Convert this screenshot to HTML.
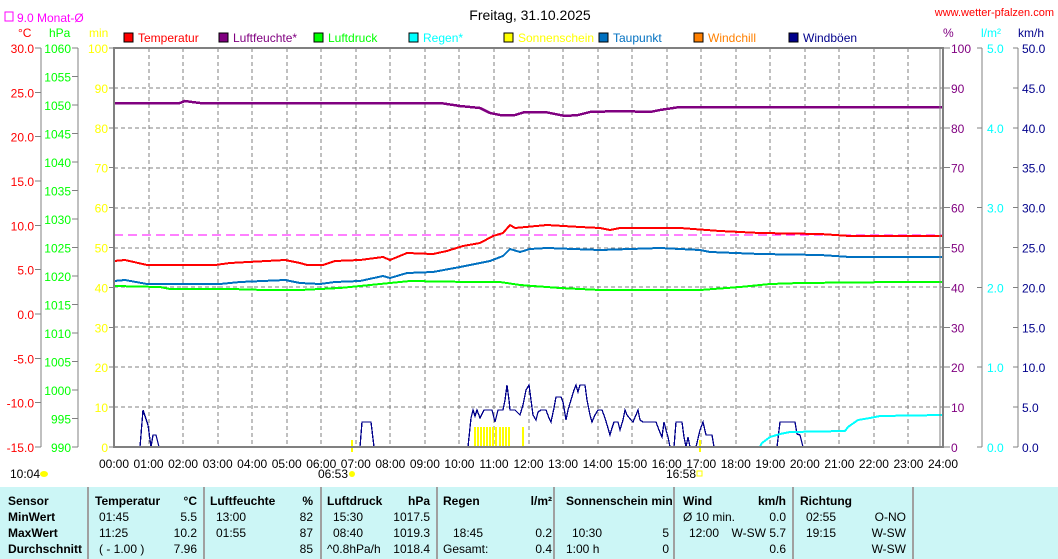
<!DOCTYPE html>
<html><head><meta charset="utf-8"><style>
body{margin:0;background:#fff;width:1058px;height:559px;overflow:hidden;font-family:"Liberation Sans",sans-serif}
svg{position:absolute;left:0;top:0}
.tb{position:absolute;left:0;top:487px;width:1058px;height:72px;background:#ccf6f6}
.tb div{position:absolute;font-size:12px;white-space:nowrap}
.b{font-weight:bold}
.sep{position:absolute;top:0;width:2px;height:72px;background:#a0a0a0}
line,polyline,rect{shape-rendering:crispEdges}
</style></head><body>
<svg id="s" width="1058" height="487" font-family="Liberation Sans, sans-serif" font-size="12"></svg>
<div class="tb" id="tb"></div>
<script>
const s=document.getElementById('s');let h='';
const X=t=>114+t*829/24, Y=v=>447-v*3.99;
h+='<text x="530" y="20" font-size="14" text-anchor="middle" fill="#000">Freitag, 31.10.2025</text>';
h+='<text x="1054" y="16" font-size="11" text-anchor="end" fill="#f00">www.wetter-pfalzen.com</text>';
h+='<rect x="5" y="12" width="8" height="9" fill="none" stroke="#f0f"/><text x="17" y="22" fill="#f0f">9.0 Monat-Ø</text>';
h+='<text x="18" y="37" fill="#f00">°C</text><text x="49" y="37" fill="#0f0">hPa</text><text x="89" y="37" fill="#ff0">min</text>';
h+='<text x="943" y="37" fill="#800080">%</text><text x="981" y="37" fill="#0ff">l/m²</text><text x="1018" y="37" fill="#00008b">km/h</text>';
const leg=[['Temperatur','#f00',124],['Luftfeuchte*','#800080',219],['Luftdruck','#0f0',314],['Regen*','#0ff',409],['Sonnenschein','#ff0',504],['Taupunkt','#0070c0',599],['Windchill','#ff8000',694],['Windböen','#00008b',789]];
leg.forEach(l=>{h+=`<rect x="${l[2]}" y="33" width="9" height="9" fill="${l[1]}" stroke="#000"/><text x="${l[2]+14}" y="42" fill="${l[1]}">${l[0]}</text>`});
for(let i=1;i<24;i++)h+=`<line x1="${Math.round(X(i))}" y1="48" x2="${Math.round(X(i))}" y2="447" stroke="#808080" stroke-dasharray="4,3"/>`;
for(let i=1;i<10;i++)h+=`<line x1="114" y1="${Math.round(Y(i*10))}" x2="943" y2="${Math.round(Y(i*10))}" stroke="#808080" stroke-dasharray="4,3"/>`;
h+=`<line x1="41" y1="48" x2="41" y2="447" stroke="#808080"/><line x1="78" y1="48" x2="78" y2="447" stroke="#808080"/><line x1="982" y1="48" x2="982" y2="447" stroke="#808080"/><line x1="1018" y1="48" x2="1018" y2="447" stroke="#808080"/>`;
for(let i=0;i<=9;i++){let y=48+i*44.33;h+=`<line x1="35" y1="${y}" x2="41" y2="${y}" stroke="#808080"/><text x="34" y="${y+5}" text-anchor="end" fill="#f00">${(30-5*i).toFixed(1)}</text>`;}
for(let i=0;i<=14;i++){let y=48+i*28.5;h+=`<line x1="72" y1="${y}" x2="78" y2="${y}" stroke="#808080"/><text x="71" y="${y+5}" text-anchor="end" fill="#0f0">${1060-5*i}</text>`;}
for(let i=0;i<=10;i++){let y=Y(100-10*i);h+=`<line x1="109" y1="${y}" x2="114" y2="${y}" stroke="#808080"/><text x="108" y="${y+5}" text-anchor="end" fill="#ff0">${100-10*i}</text>`;
h+=`<line x1="944" y1="${y}" x2="950" y2="${y}" stroke="#808080"/><text x="951" y="${y+5}" fill="#800080">${100-10*i}</text>`;
h+=`<line x1="1013" y1="${y}" x2="1018" y2="${y}" stroke="#808080"/><text x="1022" y="${y+5}" fill="#00008b">${(50-5*i).toFixed(1)}</text>`;}
for(let i=0;i<=5;i++){let y=48+i*79.8;h+=`<line x1="977" y1="${y}" x2="982" y2="${y}" stroke="#808080"/><text x="987" y="${y+5}" fill="#0ff">${(5-i).toFixed(1)}</text>`;}
for(let i=0;i<=24;i++)h+=`<text x="${X(i)}" y="468" text-anchor="middle" fill="#000">${String(i).padStart(2,'0')}:00</text>`;
h+='<text x="10" y="478" fill="#000">10:04</text><ellipse cx="44" cy="474" rx="4" ry="3" fill="#ff0"/>';
h+='<text x="318" y="478" fill="#000">06:53</text><circle cx="352" cy="474" r="3" fill="#ff0"/>';
h+='<text x="666" y="478" fill="#000">16:58</text><rect x="697" y="471" width="5" height="5" fill="none" stroke="#ff0"/>';
[474,477,480,483,486,489,492,495,499,502,505,508,522].forEach(x=>h+=`<rect x="${x}" y="427" width="2" height="20" fill="#ff0"/>`);
h+='<rect x="351" y="440" width="2" height="12" fill="#ff0"/><rect x="699" y="440" width="2" height="12" fill="#ff0"/>';
const P=(pts,c,w)=>`<polyline points="${pts}" fill="none" stroke="${c}" stroke-width="${w}"/>`;
h+='<line x1="114" y1="235" x2="943" y2="235" stroke="#f0f" stroke-dasharray="9,5"/>';
h+=P('114,103 180,103 185,101 192,102 200,103 440,103 460,106 480,108 490,113 500,115 515,115 525,112 545,112 565,116 578,115 590,112 620,111 650,112 660,110 680,107 943,107','#800080',2.5);
h+=P('114,286 160,287 170,289 230,289 265,290 300,290 340,288 380,284 410,281 470,282 500,282 520,285 560,288 600,290 700,290 740,287 770,284 800,283 900,282 943,282','#0f0',2);
h+=P('114,281 125,280 147,284 220,284 240,282 285,280 300,283 320,284 335,282 360,281 383,276 390,278 407,273 433,272 460,267 490,261 503,256 510,249 520,252 530,249 547,248 600,250 660,248 700,250 710,252 760,254 820,255 850,257 943,257','#0070c0',2);
h+=P('114,261 125,260 147,265 215,265 230,263 285,260 300,263 307,265 323,265 335,261 360,260 383,257 390,260 407,253 433,254 447,251 463,246 480,243 493,236 503,233 510,225 515,228 547,225 580,227 600,228 610,230 620,228 680,228 720,231 760,233 820,234 850,236 943,236','#f00',2);
h+=P('114,447 140,447 143,410 148,425 151,447 153,435 156,435 159,447 360,447 362,422 371,422 374,447 468,447 471,418 473,410 475,416 477,410 480,418 484,410 492,410 495,422 498,410 503,410 505,400 507,385 509,400 510,410 515,410 520,415 523,405 526,390 529,385 531,400 533,415 536,420 538,412 541,410 546,410 549,418 551,422 554,408 556,397 561,397 563,402 566,420 568,410 571,400 574,390 576,385 578,392 580,385 585,385 587,400 590,415 592,422 595,415 598,410 602,410 605,418 608,428 610,435 612,428 614,422 618,422 620,430 623,420 625,410 627,415 631,420 633,422 636,415 638,410 640,420 643,422 656,422 659,430 662,437 664,422 666,430 668,437 670,447 674,447 676,422 682,422 684,437 686,447 688,437 690,447 696,447 700,430 703,422 706,435 712,435 714,447 777,447 780,422 795,422 797,434 800,435 803,447','#00008b',1.3);
h+=P('114,447 760,447 762,443 770,437 780,434 790,432 845,431 848,427 858,420 870,418 880,416 943,415','#0ff',2);
h+='<rect x="114" y="48" width="829" height="399" fill="none" stroke="#808080" stroke-width="2"/><line x1="940" y1="48" x2="940" y2="447" stroke="#808080"/>';
s.innerHTML=h;
const tb=document.getElementById('tb');let t='';
[87,203,320,436,553,673,792,912].forEach(x=>t+=`<div class="sep" style="left:${x}px"></div>`);
const R=[7,23,39,55];
const cell=(x,r,txt,cls,end)=>t+=`<div class="${cls||''}" style="${end?'right:'+(1058-x):'left:'+x}px;top:${R[r]}px">${txt}</div>`;
['Sensor','MinWert','MaxWert','Durchschnitt'].forEach((v,i)=>cell(8,i,v,'b'));
cell(95,0,'Temperatur','b');cell(197,0,'°C','b',1);cell(99,1,'01:45');cell(197,1,'5.5','',1);cell(99,2,'11:25');cell(197,2,'10.2','',1);cell(99,3,'( - 1.00 )');cell(197,3,'7.96','',1);
cell(210,0,'Luftfeuchte','b');cell(313,0,'%','b',1);cell(216,1,'13:00');cell(313,1,'82','',1);cell(216,2,'01:55');cell(313,2,'87','',1);cell(313,3,'85','',1);
cell(327,0,'Luftdruck','b');cell(430,0,'hPa','b',1);cell(333,1,'15:30');cell(430,1,'1017.5','',1);cell(333,2,'08:40');cell(430,2,'1019.3','',1);cell(327,3,'^0.8hPa/h');cell(430,3,'1018.4','',1);
cell(443,0,'Regen','b');cell(552,0,'l/m²','b',1);cell(453,2,'18:45');cell(552,2,'0.2','',1);cell(443,3,'Gesamt:');cell(552,3,'0.4','',1);
cell(566,0,'Sonnenschein min','b');cell(669,2,'5','',1);cell(572,2,'10:30');cell(566,3,'1:00 h');cell(669,3,'0','',1);
cell(683,0,'Wind','b');cell(786,0,'km/h','b',1);cell(683,1,'Ø 10 min.');cell(786,1,'0.0','',1);cell(689,2,'12:00');cell(786,2,'W-SW 5.7','',1);cell(786,3,'0.6','',1);
cell(800,0,'Richtung','b');cell(806,1,'02:55');cell(906,1,'O-NO','',1);cell(806,2,'19:15');cell(906,2,'W-SW','',1);cell(906,3,'W-SW','',1);
tb.innerHTML=t;
</script>
</body></html>
